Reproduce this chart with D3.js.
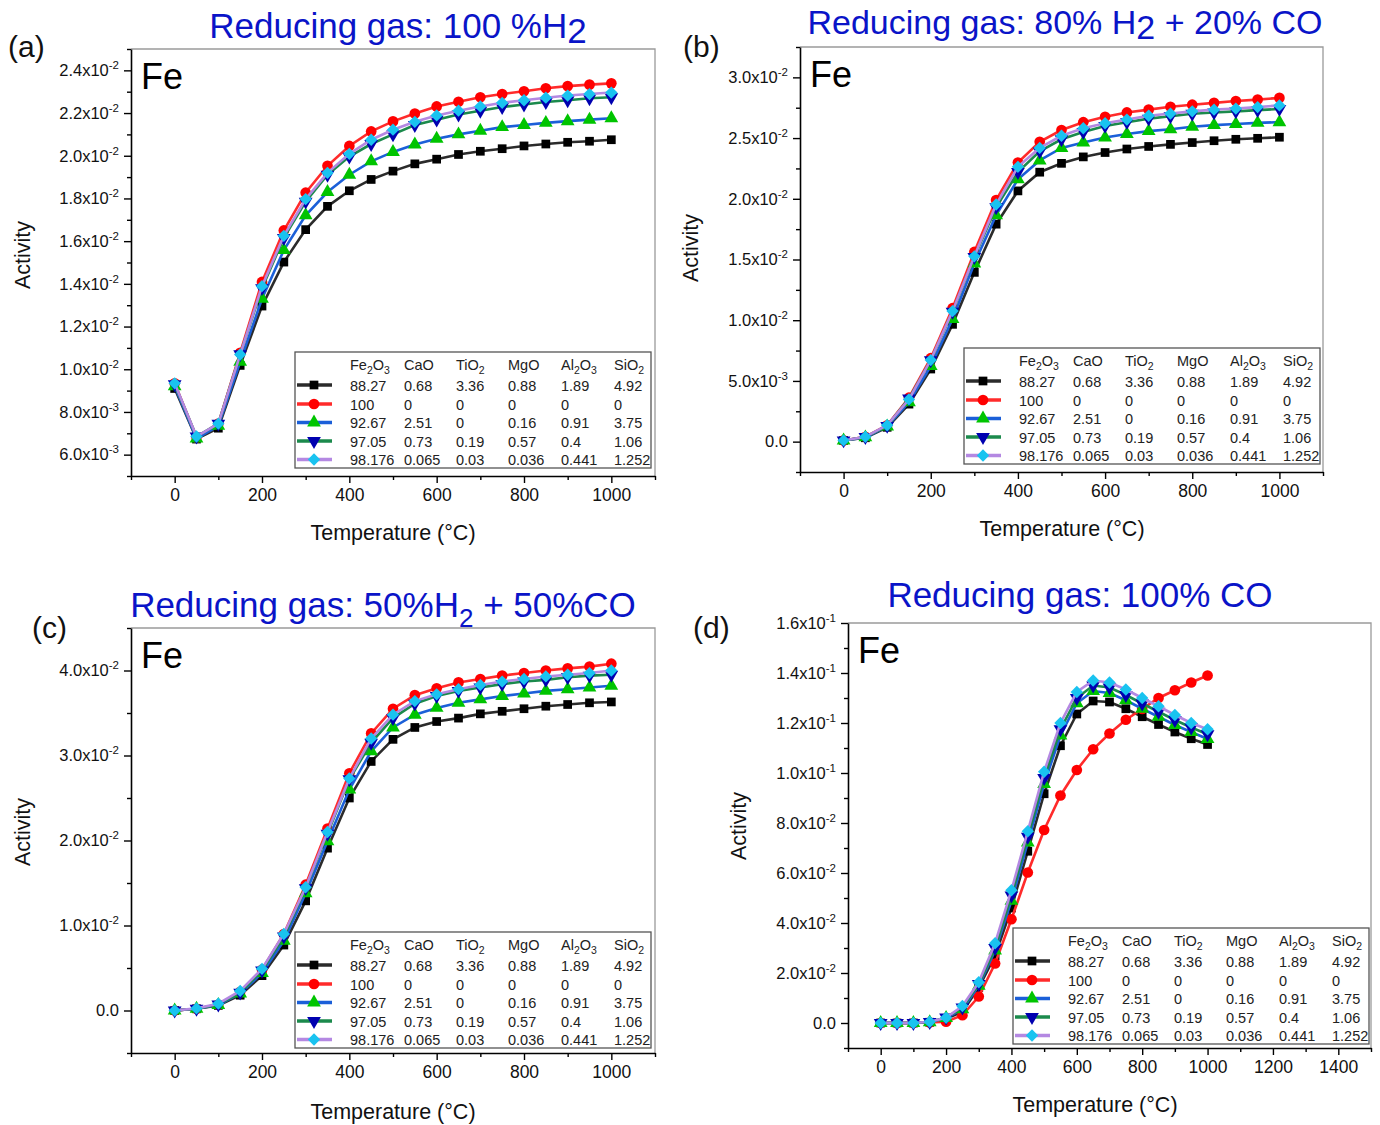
<!DOCTYPE html>
<html>
<head>
<meta charset="utf-8">
<script src="https://cdn.jsdelivr.net/npm/d3@7"></script>
<style>
  body { margin: 0; background: #fff; }
  text { font-family: "Liberation Sans", Arial, sans-serif; }
</style>
</head>
<body>
<svg id="fig" width="1380" height="1125"></svg>
<script>
// temperatures (deg C), same for every series
var temps = [0, 50, 100, 150, 200, 250, 300, 350, 400, 450, 500, 550, 600, 650, 700, 750, 800, 850, 900, 950, 1000];

// activity values, in units of 1e-2
// (a) 100% H2
var aBlack = [0.91, 0.673, 0.724, 1.018, 1.296, 1.502, 1.654, 1.763, 1.836, 1.889, 1.928, 1.962, 1.984, 2.006, 2.021, 2.033, 2.046, 2.055, 2.063, 2.068, 2.075];
var aRed   = [0.934, 0.681, 0.745, 1.077, 1.409, 1.65, 1.827, 1.953, 2.046, 2.114, 2.161, 2.198, 2.231, 2.253, 2.274, 2.289, 2.302, 2.316, 2.326, 2.333, 2.339];
var aBlue  = [0.92, 0.675, 0.735, 1.035, 1.33, 1.558, 1.721, 1.83, 1.911, 1.974, 2.018, 2.053, 2.08, 2.1, 2.117, 2.134, 2.144, 2.154, 2.162, 2.169, 2.176];
var aGreen = [0.93, 0.685, 0.745, 1.07, 1.38, 1.615, 1.785, 1.911, 1.996, 2.055, 2.1, 2.144, 2.169, 2.193, 2.211, 2.228, 2.24, 2.252, 2.26, 2.269, 2.274];
var aPurple= [0.934, 0.685, 0.745, 1.069, 1.389, 1.625, 1.797, 1.92, 2.009, 2.075, 2.122, 2.159, 2.189, 2.211, 2.231, 2.248, 2.26, 2.272, 2.282, 2.289, 2.296];
// (b) 80% H2 + 20% CO
var bBlack = [0.01, 0.032, 0.118, 0.309, 0.598, 0.966, 1.394, 1.791, 2.065, 2.219, 2.292, 2.345, 2.381, 2.41, 2.431, 2.448, 2.463, 2.478, 2.49, 2.498, 2.507];
var bRed   = [0.01, 0.04, 0.135, 0.362, 0.687, 1.099, 1.562, 1.989, 2.298, 2.469, 2.566, 2.631, 2.675, 2.711, 2.734, 2.758, 2.775, 2.79, 2.805, 2.817, 2.831];
var bBlue  = [0.01, 0.035, 0.125, 0.325, 0.622, 1.01, 1.467, 1.865, 2.16, 2.316, 2.419, 2.463, 2.504, 2.534, 2.557, 2.572, 2.593, 2.607, 2.616, 2.625, 2.631];
var bGreen = [0.01, 0.038, 0.13, 0.355, 0.67, 1.07, 1.52, 1.93, 2.22, 2.39, 2.49, 2.55, 2.6, 2.631, 2.66, 2.68, 2.7, 2.71, 2.72, 2.73, 2.74];
var bPurple= [0.01, 0.04, 0.135, 0.348, 0.672, 1.075, 1.526, 1.953, 2.263, 2.419, 2.519, 2.581, 2.622, 2.652, 2.684, 2.702, 2.72, 2.734, 2.743, 2.755, 2.769];
// (c) 50% H2 + 50% CO
var cBlack = [0, 0.02, 0.06, 0.18, 0.41, 0.77, 1.29, 1.91, 2.5, 2.93, 3.19, 3.33, 3.4, 3.44, 3.49, 3.52, 3.55, 3.58, 3.6, 3.62, 3.63];
var cRed   = [0, 0.02, 0.07, 0.22, 0.48, 0.9, 1.48, 2.14, 2.79, 3.26, 3.55, 3.71, 3.79, 3.86, 3.9, 3.94, 3.97, 4.0, 4.025, 4.046, 4.08];
var cBlue  = [0, 0.02, 0.065, 0.2, 0.44, 0.82, 1.38, 1.99, 2.6, 3.05, 3.33, 3.48, 3.56, 3.62, 3.66, 3.7, 3.73, 3.76, 3.78, 3.8, 3.82];
var cGreen = [0, 0.02, 0.07, 0.21, 0.47, 0.87, 1.44, 2.08, 2.72, 3.15, 3.44, 3.61, 3.7, 3.76, 3.8, 3.84, 3.87, 3.89, 3.92, 3.94, 3.95];
var cPurple= [0, 0.025, 0.08, 0.23, 0.49, 0.9, 1.45, 2.1, 2.73, 3.2, 3.48, 3.64, 3.72, 3.78, 3.83, 3.87, 3.9, 3.93, 3.95, 3.97, 4.0];
// (d) 100% CO
var dBlack = [0, 0, 0, 0.03, 0.17, 0.45, 1.42, 2.69, 4.6, 6.87, 9.17, 11.09, 12.36, 12.88, 12.84, 12.57, 12.25, 11.94, 11.64, 11.37, 11.14];
var dRed   = [0, 0, 0, 0.02, 0.05, 0.31, 1.06, 2.38, 4.15, 6.02, 7.72, 9.1, 10.12, 10.95, 11.58, 12.13, 12.56, 13.0, 13.31, 13.62, 13.9];
var dBlue  = [0, 0, 0, 0.03, 0.2, 0.55, 1.49, 2.9, 4.89, 7.22, 9.56, 11.5, 12.79, 13.28, 13.2, 12.91, 12.57, 12.25, 11.92, 11.64, 11.36];
var dGreen = [0, 0, 0, 0.04, 0.22, 0.62, 1.56, 3.0, 5.1, 7.45, 9.8, 11.75, 13.0, 13.5, 13.42, 13.12, 12.78, 12.45, 12.12, 11.82, 11.55];
var dPurple= [0, 0, 0, 0.05, 0.21, 0.68, 1.63, 3.19, 5.31, 7.67, 10.05, 12.0, 13.24, 13.7, 13.62, 13.34, 13.0, 12.67, 12.32, 12.0, 11.75];

// tick values (x in deg C, y in units of 1e-2)
var xTicksShort = [0, 200, 400, 600, 800, 1000];
var xTicksLong = [0, 200, 400, 600, 800, 1000, 1200, 1400];
var yTicksA = [0.6, 0.8, 1.0, 1.2, 1.4, 1.6, 1.8, 2.0, 2.2, 2.4];
var yTicksB = [0, 0.5, 1.0, 1.5, 2.0, 2.5, 3.0];
var yTicksC = [0, 1, 2, 3, 4];
var yTicksD = [0, 2, 4, 6, 8, 10, 12, 14, 16];

// legend table
var compHeader = ["Fe2O3", "CaO", "TiO2", "MgO", "Al2O3", "SiO2"];
var compRows = [
  ["88.27", "0.68", "3.36", "0.88", "1.89", "4.92"],
  ["100", "0", "0", "0", "0", "0"],
  ["92.67", "2.51", "0", "0.16", "0.91", "3.75"],
  ["97.05", "0.73", "0.19", "0.57", "0.4", "1.06"],
  ["98.176", "0.065", "0.03", "0.036", "0.441", "1.252"]
];

var lineColors = ["#2b2b2b", "#ff2b2b", "#1b5fd8", "#1b8a4c", "#b488e2"];
var markerColors = ["#000000", "#ff0000", "#00c400", "#0000b0", "#19c3f0"];
var markerShapes = ["square", "circle", "triangle", "triangleDown", "diamond"];

var panels = [
  { label: "(a)", labelX: 8, labelY: 57, left: 131, top: 49, right: 655, bottom: 476,
    xDomain: [-100, 1100], yDomain: [0.5, 2.5], xTicks: xTicksShort, yTicks: yTicksA,
    series: [aBlack, aRed, aBlue, aGreen, aPurple],
    title: [["Reducing gas: 100 %H", 0], ["2", 5]], titleX: 398, titleY: 38, titleSize: 35,
    legX: 295, legY: 352, yLabX: 22, yLabY: 255, xLabX: 393, xLabY: 540 },
  { label: "(b)", labelX: 683, labelY: 57, left: 800, top: 47, right: 1323, bottom: 472,
    xDomain: [-100, 1100], yDomain: [-0.25, 3.25], xTicks: xTicksShort, yTicks: yTicksB,
    series: [bBlack, bRed, bBlue, bGreen, bPurple],
    title: [["Reducing gas: 80% H", 0], ["2", 5], [" + 20% CO", -5]], titleX: 1065, titleY: 34, titleSize: 34,
    legX: 964, legY: 348, yLabX: 690, yLabY: 248, xLabX: 1062, xLabY: 536 },
  { label: "(c)", labelX: 32, labelY: 638, left: 131, top: 628, right: 655, bottom: 1053,
    xDomain: [-100, 1100], yDomain: [-0.5, 4.5], xTicks: xTicksShort, yTicks: yTicksC,
    series: [cBlack, cRed, cBlue, cGreen, cPurple],
    title: [["Reducing gas: 50%H", 0], ["2", 10, 26], [" + 50%CO", -10]], titleX: 383, titleY: 617, titleSize: 35,
    legX: 295, legY: 932, yLabX: 22, yLabY: 832, xLabX: 393, xLabY: 1119 },
  { label: "(d)", labelX: 693, labelY: 638, left: 848, top: 623, right: 1371, bottom: 1048,
    xDomain: [-100, 1500], yDomain: [-1, 16], xTicks: xTicksLong, yTicks: yTicksD,
    series: [dBlack, dRed, dBlue, dGreen, dPurple],
    title: [["Reducing gas: 100% CO", 0]], titleX: 1080, titleY: 607, titleSize: 35,
    legX: 1013, legY: 928, yLabX: 738, yLabY: 826, xLabX: 1095, xLabY: 1112 }
];

var svg = d3.select("#fig");
svg.append("rect").attr("width", 1380).attr("height", 1125).attr("fill", "#fff");

function sciParts(v) {
  var actual = v * 1e-2;
  if (Math.abs(actual) < 1e-12) return ["0.0", null];
  var e = Math.floor(Math.log10(actual) + 1e-9);
  var m = (Math.round(actual / Math.pow(10, e) * 10) / 10).toFixed(1);
  return [m + "x10", String(e)];
}

function symbolPath(shape) {
  if (shape == "square") return d3.symbol(d3.symbolSquare, 76)();
  if (shape == "circle") return d3.symbol(d3.symbolCircle, 90)();
  if (shape == "triangle" || shape == "triangleDown") return d3.symbol(d3.symbolTriangle, 82)();
  return d3.symbol(d3.symbolSquare, 76)();
}
function symbolRot(shape) {
  if (shape == "triangleDown") return 180;
  if (shape == "diamond") return 45;
  return 0;
}

// chemical formula with digits as subscripts
function formula(textSel, str, subSize, subDy) {
  var parts = str.match(/[A-Za-z]+|[0-9]+/g);
  var shift = 0;
  parts.forEach(function (p) {
    var isSub = /[0-9]/.test(p);
    var want = isSub ? subDy : 0;
    var ts = textSel.append("tspan").text(p).attr("dy", want - shift);
    if (isSub) ts.attr("font-size", subSize);
    shift = want;
  });
}

function minorTicks(majors, domain) {
  var step = majors[1] - majors[0];
  var out = [];
  for (var v = majors[0] - step / 2; v <= domain[1] + 1e-9; v += step) {
    if (v >= domain[0] - 1e-9) out.push(v);
  }
  return out;
}

panels.forEach(function (p) {
  var g = svg.append("g");
  var x = d3.scaleLinear().domain(p.xDomain).range([p.left, p.right]);
  var y = d3.scaleLinear().domain(p.yDomain).range([p.bottom, p.top]);

  // frame top/right
  g.append("path")
    .attr("d", "M" + p.left + "," + p.top + "H" + p.right + "V" + p.bottom)
    .attr("fill", "none").attr("stroke", "#9a9a9a").attr("stroke-width", 1.3);

  // minor ticks
  g.append("g").attr("transform", "translate(" + p.left + ",0)")
    .call(d3.axisLeft(y).tickValues(minorTicks(p.yTicks, p.yDomain)).tickSize(4).tickSizeOuter(0).tickFormat(""))
    .call(function (s) { s.select(".domain").remove(); s.selectAll("line").attr("stroke-width", 1.4); });
  g.append("g").attr("transform", "translate(0," + p.bottom + ")")
    .call(d3.axisBottom(x).tickValues(minorTicks(p.xTicks, p.xDomain)).tickSize(4).tickSizeOuter(0).tickFormat(""))
    .call(function (s) { s.select(".domain").remove(); s.selectAll("line").attr("stroke-width", 1.4); });

  // y axis
  var yg = g.append("g").attr("transform", "translate(" + p.left + ",0)")
    .call(d3.axisLeft(y).tickValues(p.yTicks).tickSize(7).tickSizeOuter(0).tickPadding(5).tickFormat(""));
  yg.select(".domain").attr("stroke-width", 1.6);
  yg.selectAll("line").attr("stroke-width", 1.4);
  yg.selectAll(".tick text").each(function (d) {
    var t = d3.select(this).attr("font-size", 16.5).attr("fill", "#111")
      .attr("font-family", "Liberation Sans, Arial, sans-serif");
    var parts = sciParts(d);
    t.append("tspan").text(parts[0]);
    if (parts[1] !== null) {
      t.append("tspan").attr("font-size", 11.5).attr("dy", -7).text(parts[1]);
    }
  });

  // x axis
  var xg = g.append("g").attr("transform", "translate(0," + p.bottom + ")")
    .call(d3.axisBottom(x).tickValues(p.xTicks).tickSize(7).tickSizeOuter(0).tickPadding(6).tickFormat(d3.format("d")));
  xg.select(".domain").attr("stroke-width", 1.6);
  xg.selectAll("line").attr("stroke-width", 1.4);
  xg.selectAll(".tick text").attr("font-size", 17.5).attr("fill", "#111")
    .attr("font-family", "Liberation Sans, Arial, sans-serif");

  // series: line + markers, drawn in order
  var line = d3.line().x(function (d, i) { return x(temps[i]); }).y(function (d) { return y(d); });
  p.series.forEach(function (vals, k) {
    g.append("path").datum(vals).attr("d", line)
      .attr("fill", "none").attr("stroke", lineColors[k]).attr("stroke-width", 2.6);
    g.append("g").selectAll("path").data(vals).join("path")
      .attr("d", symbolPath(markerShapes[k]))
      .attr("transform", function (d, i) {
        return "translate(" + x(temps[i]) + "," + y(d) + ") rotate(" + symbolRot(markerShapes[k]) + ")";
      })
      .attr("fill", markerColors[k]);
  });

  // "Fe"
  g.append("text").attr("x", p.left + 10).attr("y", p.top + 40)
    .attr("font-size", 36).attr("fill", "#000").text("Fe");

  // legend
  var lg = g.append("g").attr("transform", "translate(" + p.legX + "," + p.legY + ")");
  lg.append("rect").attr("width", 356).attr("height", 116)
    .attr("fill", "#fff").attr("stroke", "#555").attr("stroke-width", 1.3);
  var colX = [55, 109, 161, 213, 266, 319];
  var rowY = [33, 52, 70.5, 89, 107.5];
  compHeader.forEach(function (h, j) {
    var t = lg.append("text").attr("x", colX[j]).attr("y", 18).attr("font-size", 14.5).attr("fill", "#222");
    formula(t, h, 10.5, 4);
  });
  compRows.forEach(function (row, k) {
    var cy = rowY[k];
    lg.append("line").attr("x1", 2).attr("x2", 37).attr("y1", cy).attr("y2", cy)
      .attr("stroke", lineColors[k]).attr("stroke-width", 3.5);
    lg.append("path").attr("d", symbolPath(markerShapes[k]))
      .attr("transform", "translate(19," + cy + ") rotate(" + symbolRot(markerShapes[k]) + ")")
      .attr("fill", markerColors[k]);
    row.forEach(function (v, j) {
      lg.append("text").attr("x", colX[j]).attr("y", cy + 5.5)
        .attr("font-size", 14.5).attr("fill", "#222").text(v);
    });
  });

  // axis titles
  svg.append("text")
    .attr("transform", "translate(" + p.yLabX + "," + p.yLabY + ") rotate(-90)")
    .attr("text-anchor", "middle").attr("dy", "0.35em")
    .attr("font-size", 21.5).attr("fill", "#111").text("Activity");
  svg.append("text").attr("x", p.xLabX).attr("y", p.xLabY)
    .attr("text-anchor", "middle").attr("font-size", 21.5).attr("fill", "#111")
    .text("Temperature (\u00B0C)");

  // panel title
  var tt = svg.append("text").attr("x", p.titleX).attr("y", p.titleY)
    .attr("text-anchor", "middle").attr("font-size", p.titleSize).attr("fill", "#0a14c8");
  p.title.forEach(function (part) {
    var ts = tt.append("tspan").text(part[0]).attr("dy", part[1]);
    if (part[2]) ts.attr("font-size", part[2]);
  });

  // panel letter
  svg.append("text").attr("x", p.labelX).attr("y", p.labelY)
    .attr("font-family", "Lato, 'Open Sans', sans-serif")
    .attr("font-size", 30).attr("fill", "#111").text(p.label);
});
</script>
</body>
</html>
